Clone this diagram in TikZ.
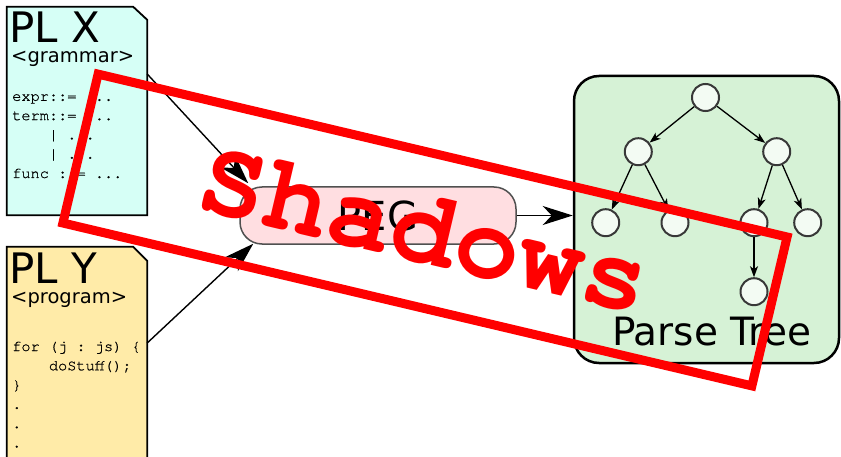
\documentclass[tikz,border=0pt]{standalone}
\usepackage{fontspec}
\setsansfont{DejaVu Sans}
\newfontfamily\codefont{TeX Gyre Cursor}
\newfontfamily\listfont{TeX Gyre Cursor}[FakeBold=0.6]
\usetikzlibrary{arrows.meta}
\definecolor{gramfill}{HTML}{D6FFF6}
\definecolor{progfill}{HTML}{FFEBA8}
\definecolor{pegfill}{HTML}{FFDEE1}
\definecolor{pegline}{HTML}{505050}
\definecolor{treefill}{HTML}{D6F2D6}
\definecolor{leaffill}{HTML}{F3FBF3}
\definecolor{leafline}{HTML}{383838}
\newcommand\indentby{\hphantom{xxxx}}
\begin{document}
\begin{tikzpicture}[x=1pt,y=1pt,
  doc/.style={minimum width=140pt,inner sep=0pt},
  doctitle/.style={anchor=base west,inner sep=0pt,font=\fontsize{42}{42}\selectfont\sffamily},
  docsub/.style={anchor=base west,inner sep=0pt,font=\fontsize{19.5}{19.5}\selectfont\sffamily},
  code/.style={anchor=base west,inner sep=0pt,align=left,font=\fontsize{15.3}{19.3}\selectfont\listfont\frenchspacing},
  pt/.style={circle,draw=leafline,fill=leaffill,line width=2pt,minimum size=27pt,inner sep=0pt},
  feed/.style={-{Stealth[length=30pt,width=19pt,inset=9pt]},line width=1.4pt},
  branch/.style={-{Stealth[length=11pt,width=8pt,inset=3pt]},line width=1.3pt}]
\useasboundingbox (0,0) rectangle (841,456);
\node[doc,minimum height=208pt] (plx) at (77,345) {};
\draw[fill=gramfill,line width=1.8pt] (plx.south west) |- ([xshift=-14pt]plx.north east) -- ([yshift=-13pt]plx.north east) -- (plx.south east) -- cycle;
\node[doctitle] (plxname) at (9,413.5) {PL X};
\node[docsub] (plxkind) at (11,393) {<grammar>};
\node[code] (plxcode) at (12,278) {expr::= ...\\term::= ...\\\indentby| ...\\\indentby| ...\\func ::= ...};
\node[doc,minimum height=214pt] (ply) at (77,102) {};
\draw[fill=progfill,line width=1.8pt] (ply.south west) |- ([xshift=-14pt]ply.north east) -- ([yshift=-14pt]ply.north east) -- (ply.south east) -- cycle;
\node[doctitle] (plyname) at (9,173) {PL Y};
\node[docsub] (plykind) at (11,153) {<program>};
\node[code] (plycode) at (12,8.5) {for (j : js) \{\\\indentby doStuff();\\\}\\.\\.\\.};
\node[draw=pegline,fill=pegfill,rounded corners=22pt,minimum width=276pt,minimum height=57pt,line width=1.5pt,font=\fontsize{40}{40}\selectfont\sffamily] (peg) at (378,240.5) {PEG};
\draw[feed] ([yshift=37pt]plx.east) -- ([xshift=9pt,yshift=3pt]peg.north west);
\draw[feed] ([yshift=11pt]ply.east) -- ([xshift=14pt,yshift=1pt]peg.south west);
\node[draw,fill=treefill,rounded corners=25pt,minimum width=265pt,minimum height=287pt,line width=2.5pt] (tree) at (706.5,236.5) {};
\draw[feed] (peg.east) -- (peg.east -| tree.west);
\node[pt] (root) at (705.5,358.5) {};
\node[pt] (l) at (638.3,304.3) {};
\node[pt] (r) at (776.7,304.3) {};
\node[pt] (ll) at (605.7,233.3) {};
\node[pt] (lr) at (675,233.3) {};
\node[pt] (rl) at (754,233.3) {};
\node[pt] (rr) at (807.7,233.3) {};
\node[pt] (rlc) at (754,164.3) {};
\draw[branch] (root) -- (l);
\draw[branch] (root) -- (r);
\draw[branch] (l) -- (ll);
\draw[branch] (l) -- (lr);
\draw[branch] (r) -- (rl);
\draw[branch] (r) -- (rr);
\draw[branch] (rl) -- (rlc);
\node[anchor=base,inner sep=0pt,font=\fontsize{39}{39}\selectfont\sffamily] (treename) at (712,111) {Parse Tree};
\node[draw=red,text=red,line width=9pt,rotate=-13.3,minimum width=708pt,minimum height=153pt,font=\fontsize{109}{109}\selectfont\codefont\bfseries] (stamp) at (425,226) {\raisebox{3pt}{Shadows}};
\end{tikzpicture}
\end{document}
